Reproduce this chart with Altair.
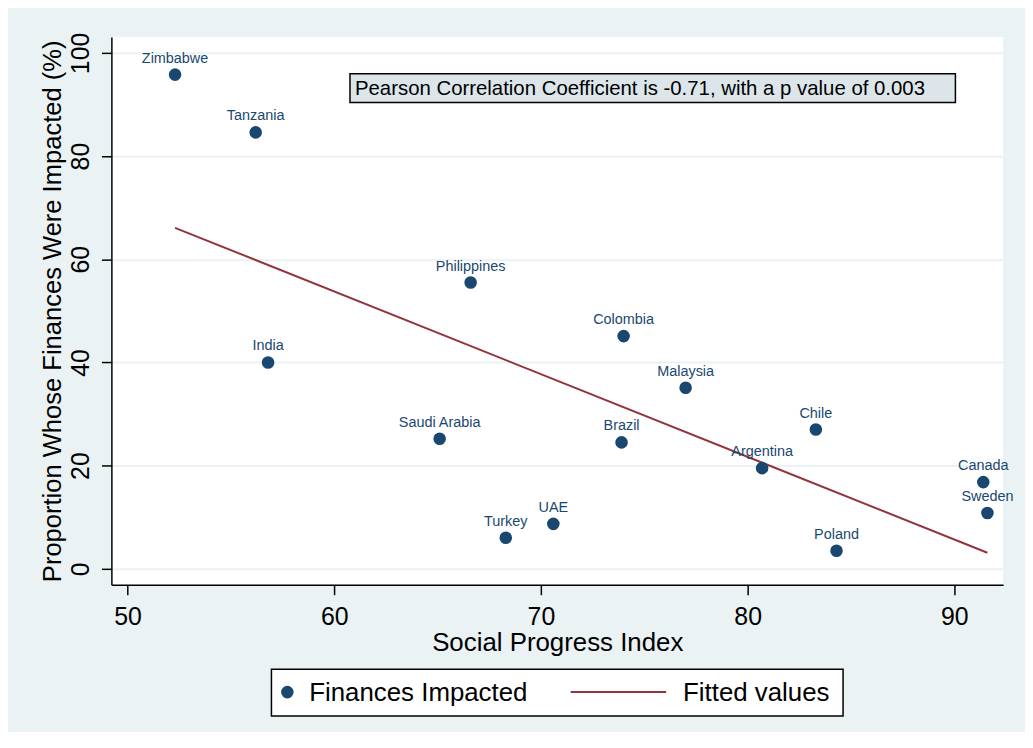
import altair as alt
import pandas as pd

# ---- data ----
countries = ["Zimbabwe", "Tanzania", "India", "Saudi Arabia", "Philippines", "Turkey",
             "UAE", "Brazil", "Colombia", "Malaysia", "Argentina", "Chile", "Poland",
             "Canada", "Sweden"]
spi = [52.3, 56.2, 56.8, 65.1, 66.6, 68.3, 70.6, 73.9, 74.0, 77.0, 80.7, 83.3, 84.3, 91.4, 91.6]
impacted = [95.8, 84.6, 40.0, 25.2, 55.5, 6.0, 8.7, 24.5, 45.1, 35.1, 19.5, 27.0, 3.5, 16.8, 10.8]

fit_x = [52.3, 91.6]
fit_y = [66.1, 3.1]

x_ticks = [50, 60, 70, 80, 90]
y_ticks = [0, 20, 40, 60, 80, 100]

annotation_text = ["Pearson Correlation Coefficient is -0.71, with a p value of 0.003"]
legend_labels = ["Finances Impacted", "Fitted values"]

x_title = "Social Progress Index"
y_title = "Proportion Whose Finances Were Impacted (%)"

# ---- styling ----
FONT = "Liberation Sans"
NAVY = "#1a476f"
MAROON = "#90353b"
BG = "#eaf2f3"
W, H = 897, 551

pts = pd.DataFrame({"country": countries, "spi": spi, "impacted": impacted})
fit = pd.DataFrame({"spi": fit_x, "impacted": fit_y})
ann = pd.DataFrame({"text": annotation_text})
leg_pt = pd.DataFrame({"label": [legend_labels[0]]})
leg_ln = pd.DataFrame({"label": [legend_labels[1]]})

xscale = alt.Scale(domain=[49.22, 92.36], nice=False, zero=False)
yscale = alt.Scale(domain=[-3.1, 103.1], nice=False, zero=False)

xaxis = alt.Axis(values=x_ticks, title=x_title, grid=False, domainColor="black",
                 domainWidth=1.5, tickColor="black", tickWidth=1.5, tickSize=10,
                 labelFontSize=25, labelPadding=10, labelColor="black", labelFont=FONT,
                 titleFont=FONT, titleFontSize=26, titleFontWeight="normal", titleColor="black",
                 titleY=66, titleBaseline="alphabetic")
yaxis = alt.Axis(values=y_ticks, title=y_title, grid=True, gridColor=BG, gridWidth=2,
                 domainColor="black", domainWidth=1.5, tickColor="black", tickWidth=1.5,
                 tickSize=10, labelFontSize=25, labelAngle=270, labelAlign="center",
                 labelBaseline="bottom", labelPadding=8, labelColor="black", labelFont=FONT,
                 titleFont=FONT, titleFontSize=25.7, titleFontWeight="normal", titleColor="black",
                 titleAngle=270, titleX=-46, titleY=H / 2, titleAlign="center",
                 titleBaseline="bottom")

base = alt.Chart(pts)

line = alt.Chart(fit).mark_line(color=MAROON, strokeWidth=2).encode(
    x=alt.X("spi:Q", scale=xscale, axis=xaxis),
    y=alt.Y("impacted:Q", scale=yscale, axis=yaxis),
)

points = base.mark_circle(size=160, color=NAVY, opacity=1).encode(
    x=alt.X("spi:Q", scale=xscale),
    y=alt.Y("impacted:Q", scale=yscale),
)

labels = base.mark_text(dy=-16, fontSize=14.5, font=FONT, color=NAVY, baseline="middle").encode(
    x=alt.X("spi:Q", scale=xscale),
    y=alt.Y("impacted:Q", scale=yscale),
    text="country:N",
)

ann_box = alt.Chart(ann).mark_rect(fill="#dce6ea", stroke="black", strokeWidth=1.5).encode(
    x=alt.value(240), x2=alt.value(849), y=alt.value(37), y2=alt.value(66)
)
ann_txt = alt.Chart(ann).mark_text(align="left", baseline="middle", fontSize=20.5, font=FONT,
                                   color="black").encode(
    x=alt.value(245), y=alt.value(52), text="text:N"
)

leg_box = alt.Chart(leg_pt).mark_rect(fill="white", stroke="black", strokeWidth=1.5).encode(
    x=alt.value(161), x2=alt.value(736), y=alt.value(636), y2=alt.value(683)
)
leg_sym_pt = alt.Chart(leg_pt).mark_circle(size=160, color=NAVY, opacity=1).encode(
    x=alt.value(177), y=alt.value(659)
)
leg_txt_pt = alt.Chart(leg_pt).mark_text(align="left", baseline="middle", fontSize=26, font=FONT,
                                         color="black").encode(
    x=alt.value(199), y=alt.value(660), text="label:N"
)
leg_sym_ln = alt.Chart(leg_ln).mark_rule(color=MAROON, strokeWidth=2).encode(
    x=alt.value(462), x2=alt.value(558), y=alt.value(659)
)
leg_txt_ln = alt.Chart(leg_ln).mark_text(align="left", baseline="middle", fontSize=26, font=FONT,
                                         color="black").encode(
    x=alt.value(575), y=alt.value(660), text="label:N"
)

chart = alt.layer(
    line, points, labels, ann_box, ann_txt,
    leg_box, leg_sym_pt, leg_txt_pt, leg_sym_ln, leg_txt_ln
).properties(
    width=W, height=H,
    autosize=alt.AutoSizeParams(type="none"),
    padding={"left": 104, "top": 27, "right": 22, "bottom": 146},
    background=BG,
).configure_view(fill="white", stroke=None)

chart.save("out.html", embed_options={"renderer": "svg", "actions": False})
